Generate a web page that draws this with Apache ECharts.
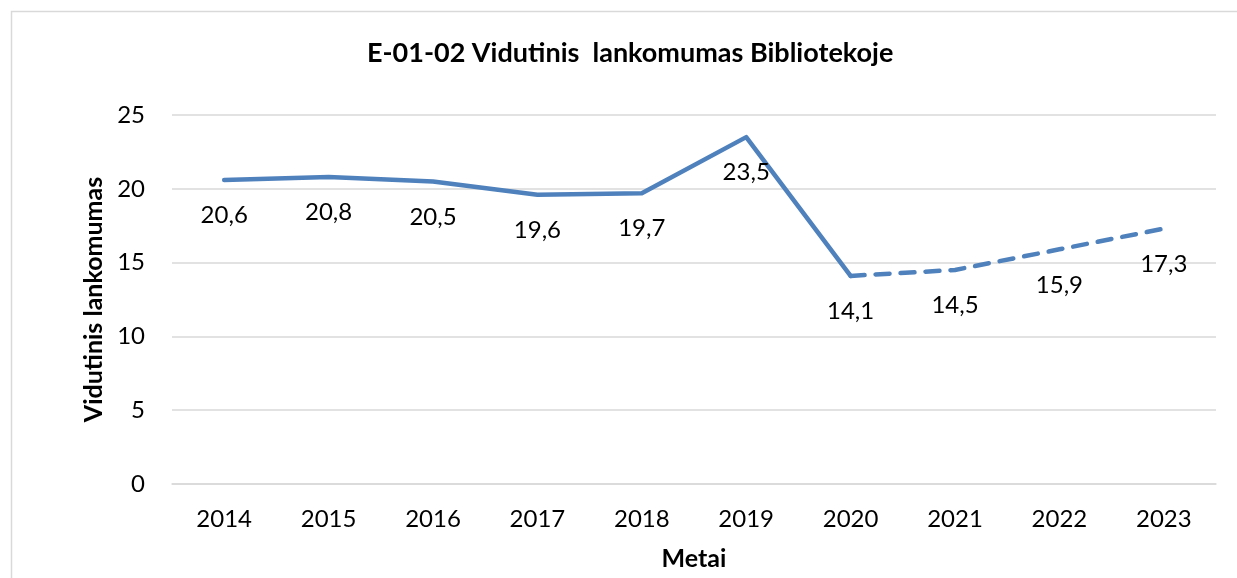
<!DOCTYPE html>
<html>
<head>
<meta charset="utf-8">
<script src="https://cdn.jsdelivr.net/npm/echarts@6/dist/echarts.min.js"></script>
<style>html,body{margin:0;padding:0;background:#fff}#c{width:1237px;height:578px}</style>
</head>
<body>
<div id="c"></div>
<script>
const categories = ['2014','2015','2016','2017','2018','2019','2020','2021','2022','2023'];
const values = [20.6, 20.8, 20.5, 19.6, 19.7, 23.5, 14.1, 14.5, 15.9, 17.3];
const solidUntil = 6; // index of 2020: solid up to here, dashed after
const yTicks = [0, 5, 10, 15, 20, 25];

const solidData = values.map((v, i) => i <= solidUntil ? v : null);
const dashedData = values.map((v, i) => i >= solidUntil ? v : null);
const FONT = 'Lato';
const BLUE = '#4f81bd';

const chart = echarts.init(document.getElementById('c'), null, {renderer: 'canvas'});
chart.setOption({
  animation: false,
  backgroundColor: '#fff',
  graphic: [{
    type: 'rect', left: 9, top: 9, shape: {width: 1240, height: 590},
    style: {fill: 'none', stroke: '#d9d9d9', lineWidth: 1.5}, silent: true
  }],
  title: {
    text: 'E-01-02 Vidutinis  lankomumas Bibliotekoje',
    left: 362, top: 35,
    textStyle: {fontFamily: FONT, fontWeight: 'bold', fontSize: 27, color: '#000'}
  },
  grid: {left: 172, right: 21, top: 115, bottom: 94},
  xAxis: {
    type: 'category', data: categories, boundaryGap: true,
    name: 'Metai', nameLocation: 'middle', nameGap: 62,
    nameTextStyle: {fontFamily: FONT, fontWeight: 'bold', fontSize: 25, color: '#000'},
    axisLine: {lineStyle: {color: '#d9d9d9', width: 1.5}},
    axisTick: {show: false},
    axisLabel: {fontFamily: FONT, fontSize: 24, color: '#000', margin: 23}
  },
  yAxis: {
    type: 'value', min: yTicks[0], max: yTicks[yTicks.length - 1], interval: 5,
    name: 'Vidutinis lankomumas', nameLocation: 'middle', nameGap: 64,
    nameTextStyle: {fontFamily: FONT, fontWeight: 'bold', fontSize: 25, color: '#000'},
    axisLine: {show: false}, axisTick: {show: false},
    axisLabel: {fontFamily: FONT, fontSize: 24, color: '#000', margin: 27},
    splitLine: {lineStyle: {color: '#d9d9d9', width: 1.5}}
  },
  series: [
    {
      type: 'line', data: solidData, showSymbol: false, symbol: 'none',
      lineStyle: {color: BLUE, width: 4.5, cap: 'round', join: 'round'},
      z: 3
    },
    {
      type: 'line', data: dashedData, showSymbol: false, symbol: 'none',
      lineStyle: {color: BLUE, width: 4.5, type: [14, 11], cap: 'round', join: 'round'},
      z: 3
    },
    {
      type: 'line', data: values, symbol: 'circle', symbolSize: 1, showSymbol: true,
      lineStyle: {width: 0, color: 'rgba(0,0,0,0)'},
      itemStyle: {color: 'rgba(0,0,0,0)', borderWidth: 0},
      label: {
        show: true, position: 'bottom', distance: 23,
        fontFamily: FONT, fontSize: 24, color: '#000',
        formatter: p => String(p.value).replace('.', ',')
      },
      z: 4
    }
  ]
});
</script>
</body>
</html>
